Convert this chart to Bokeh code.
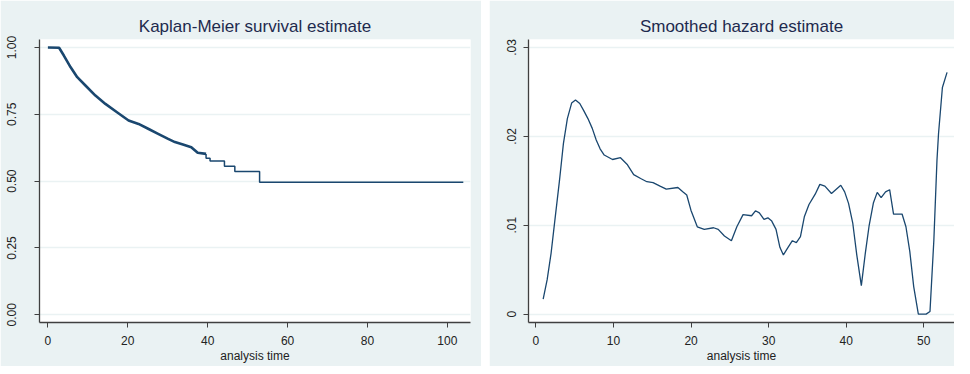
from bokeh.plotting import figure
from bokeh.layouts import row
from bokeh.models import Range1d, FixedTicker
from bokeh.embed import file_html
from bokeh.resources import INLINE

# ---------------- data ----------------
# Kaplan-Meier: dense early part (read as a smooth staircase)
km_time_early = [0, 2.8, 4.0, 5.7, 7.35, 9.4, 11.9, 14.4, 17.3, 20.2, 22.7, 25.1,
                 27.6, 30.1, 31.8, 33.8, 35.9, 37.5, 39.6]
km_surv_early = [1.0, 0.999, 0.970, 0.926, 0.889, 0.858, 0.820, 0.789, 0.758, 0.727,
                 0.714, 0.696, 0.677, 0.658, 0.646, 0.637, 0.627, 0.606, 0.602]
# Kaplan-Meier: later coarse steps
km_time_late = [39.6, 39.6, 40.6, 44.2, 46.8, 53.0, 104.0]
km_surv_late = [0.602, 0.586, 0.575, 0.556, 0.536, 0.496, 0.496]

km_xticks = [0, 20, 40, 60, 80, 100]
km_yticks = [0.0, 0.25, 0.5, 0.75, 1.0]
km_ylabels = ["0.00", "0.25", "0.50", "0.75", "1.00"]

# Smoothed hazard
hz_time = [0.93, 1.44, 1.95, 2.49, 3.04, 3.54, 4.05, 4.6, 5.1, 5.65, 6.16, 6.7, 7.26,
           7.77, 8.27, 8.8, 9.87, 10.9, 11.8, 12.6, 13.5, 14.3, 15.1, 16.0, 16.8,
           18.3, 18.93, 19.44, 19.98, 20.8, 21.7, 22.9, 23.5, 24.3, 25.2, 25.9, 26.7,
           27.8, 28.3, 28.8, 29.4, 29.9, 30.4, 30.95, 31.45, 31.9, 32.5, 33.06, 33.57,
           34.1, 34.6, 35.2, 36.0, 36.6, 37.25, 38.1, 39.3, 39.8, 40.3, 40.85, 41.36,
           41.95, 42.46, 42.96, 43.5, 44.0, 44.5, 45.07, 45.6, 46.1, 47.2, 47.7, 48.2,
           48.7, 49.3, 50.3, 50.8, 51.3, 51.7, 51.9, 52.4, 53.0]
hz_value = [0.00168, 0.00385, 0.00684, 0.01095, 0.01507, 0.01919, 0.0220, 0.02375,
            0.0241, 0.0237, 0.0229, 0.0220, 0.0209, 0.0196, 0.0186, 0.0179, 0.0174,
            0.0176, 0.0168, 0.0157, 0.01526, 0.0149, 0.0148, 0.0144, 0.01406, 0.01425,
            0.01376, 0.0134, 0.0117, 0.00983, 0.00954, 0.00972, 0.00954, 0.00879,
            0.00826, 0.00983, 0.0112, 0.01107, 0.01163, 0.0114, 0.01066, 0.01084,
            0.01047, 0.00954, 0.00752, 0.00666, 0.00752, 0.00826, 0.00804, 0.00871,
            0.01095, 0.01234, 0.0135, 0.0146, 0.0144, 0.01358, 0.0145, 0.01376,
            0.01246, 0.0102, 0.00666, 0.00321, 0.00684, 0.0100, 0.0125, 0.0137,
            0.0131, 0.01376, 0.0140, 0.01126, 0.01126, 0.00983, 0.00703, 0.0031,
            0.0, 0.0, 0.0003, 0.00834, 0.0173, 0.0203, 0.0255, 0.0272]

hz_xticks = [0, 10, 20, 30, 40, 50]
hz_yticks = [0.0, 0.01, 0.02, 0.03]
hz_ylabels = ["0", ".01", ".02", ".03"]

# ---------------- style ----------------
BG = "#EAF2F3"
LINE = "#1A476F"
AXIS = "#404040"
TITLE_C = "#1E2A4E"
FONT = "Liberation Sans"


def style(p, xticks, yticks, ylabels, ystandoff):
    p.title.align = "center"
    p.title.text_font = FONT
    p.title.text_font_size = "17px"
    p.title.text_font_style = "normal"
    p.title.text_color = TITLE_C
    p.title.standoff = 7
    p.border_fill_color = BG
    p.background_fill_color = "white"
    p.outline_line_color = None
    p.xgrid.grid_line_color = None
    p.ygrid.grid_line_color = BG
    p.ygrid.grid_line_width = 1.5
    p.xaxis.ticker = FixedTicker(ticks=xticks)
    p.yaxis.ticker = FixedTicker(ticks=yticks)
    p.yaxis.major_label_overrides = {t: l for t, l in zip(yticks, ylabels)}
    p.yaxis.major_label_orientation = "vertical"
    for ax in (p.xaxis, p.yaxis):
        ax.axis_line_color = AXIS
        ax.axis_line_width = 1.3
        ax.major_tick_line_color = AXIS
        ax.major_tick_line_width = 1
        ax.major_tick_in = 0
        ax.major_tick_out = 5
        ax.minor_tick_line_color = None
        ax.major_label_text_font = FONT
        ax.major_label_text_font_size = "12px"
        ax.major_label_text_color = "#222222"
        ax.axis_label_text_font = FONT
        ax.axis_label_text_font_size = "12px"
        ax.axis_label_text_font_style = "normal"
        ax.axis_label_text_color = "#222222"
    p.xaxis.major_label_standoff = 8
    p.xaxis.axis_label_standoff = 1
    p.yaxis.major_label_standoff = ystandoff
    p.xaxis.axis_label = "analysis time"


p1 = figure(width=481, height=366, output_backend="svg", toolbar_location=None,
            title="Kaplan-Meier survival estimate",
            x_range=Range1d(-2.1, 105.8), y_range=Range1d(-0.029, 1.03),
            min_border_left=39, min_border_right=11, min_border_top=39,
            min_border_bottom=44)
style(p1, km_xticks, km_yticks, km_ylabels, 18)
p1.line(km_time_early, km_surv_early, line_color=LINE, line_width=2.6)
p1.step(km_time_late, km_surv_late, mode="after", line_color=LINE, line_width=1.5)

p2 = figure(width=465, height=366, output_backend="svg", toolbar_location=None,
            title="Smoothed hazard estimate",
            x_range=Range1d(-0.96, 53.96), y_range=Range1d(-0.00094, 0.0309),
            min_border_left=39, min_border_right=0, min_border_top=39,
            min_border_bottom=44)
style(p2, hz_xticks, hz_yticks, hz_ylabels, 7)
p2.line(hz_time, hz_value, line_color=LINE, line_width=1.3)

layout = row(p1, p2, spacing=8)
open("out.html", "w").write(file_html(layout, INLINE))
